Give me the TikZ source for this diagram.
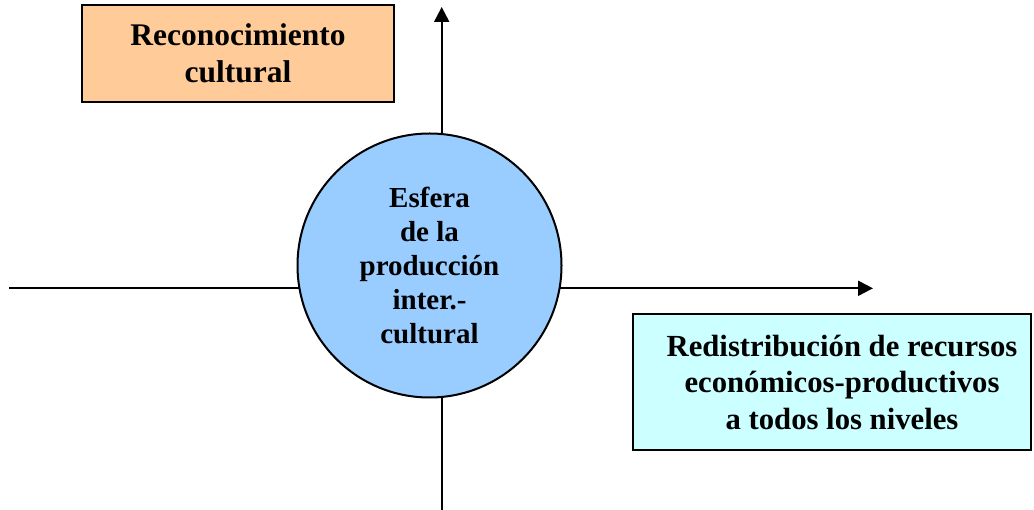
\documentclass[tikz,border=0pt]{standalone}
\usepackage{fontspec}
\setmainfont{Liberation Serif}
\usetikzlibrary{arrows.meta}
\definecolor{tanfill}{HTML}{FFCC99}
\definecolor{turqfill}{HTML}{CCFFFF}
\definecolor{palebluefill}{HTML}{99CCFF}
\begin{document}
\begin{tikzpicture}[x=1pt,y=-1pt,
  axis/.style={line width=2pt,-{Triangle[width=15pt,length=15pt]}},
  labelbox/.style={draw=black,line width=2pt,inner sep=0pt,align=center},
  boxtext/.style={inner sep=0pt,align=center},
  sphere/.style={circle,draw=black,line width=2pt,fill=palebluefill,inner sep=0pt,
    minimum size=264pt,align=center,font=\fontsize{29}{34}\selectfont\bfseries}]
\useasboundingbox (0,0) rectangle (1034,510);
% axes
\coordinate (ybot) at (441.7,511);
\coordinate (ytop) at (441.7,7);
\coordinate (xleft) at (9,288.3);
\coordinate (xright) at (873,288.3);
\draw[axis] (ybot) -- (ytop);
\draw[axis] (xleft) -- (xright);
% boxes
\node[labelbox,fill=tanfill,minimum width=312pt,minimum height=96.5pt] (rec) at (238,53.3) {};
\node[boxtext,font=\fontsize{31.5}{37}\selectfont\bfseries] (rectext) at (238,53.3) {Reconocimiento\\cultural};
\node[labelbox,fill=turqfill,minimum width=398pt,minimum height=136pt] (red) at (832,382) {};
\node[boxtext,font=\fontsize{30.7}{36.5}\selectfont\bfseries] (redtext) at (842,382) {Redistribución de recursos\\económicos-productivos\\a todos los niveles};
% circle
\node[sphere] (esf) at (429.5,265.5) {Esfera\\de la\\producción\\inter.-\\cultural};
\end{tikzpicture}
\end{document}
